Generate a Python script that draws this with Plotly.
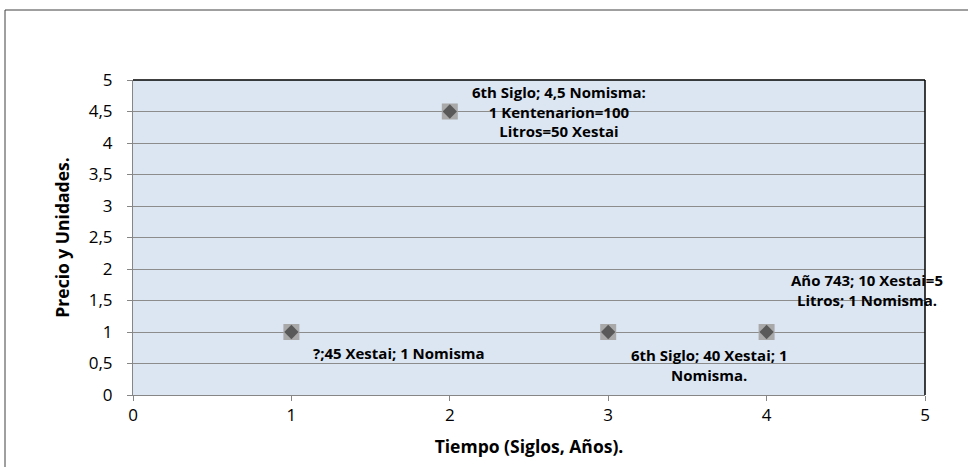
import plotly.graph_objects as go

# Data points: time (centuries/years) vs price and units
tiempo = [1, 2, 3, 4]
precio = [1, 4.5, 1, 1]
etiquetas = [
    "?;45 Xestai; 1 Nomisma",
    "6th Siglo; 4,5 Nomisma:<br>1 Kentenarion=100<br>Litros=50 Xestai",
    "6th Siglo; 40 Xestai; 1<br>Nomisma.",
    "Año 743; 10 Xestai=5<br>Litros; 1 Nomisma.",
]
# label offsets (px) relative to each point
desplaz_x = [108, 109, 101, 100]
desplaz_y = [-21, 0, -33, 42]

x_ticks = [0, 1, 2, 3, 4, 5]
y_ticks = [0, 0.5, 1, 1.5, 2, 2.5, 3, 3.5, 4, 4.5, 5]

FONT = "'Open Sans', sans-serif"

fig = go.Figure()

# light gray square behind each marker
fig.add_trace(go.Scatter(
    x=tiempo, y=precio, mode="markers",
    marker=dict(symbol="square", size=16, color="#A9A9A9", line=dict(width=0)),
    hoverinfo="skip", showlegend=False,
))
# dark gray diamond marker
fig.add_trace(go.Scatter(
    x=tiempo, y=precio, mode="markers",
    marker=dict(symbol="diamond", size=11, color="#595959", line=dict(width=0)),
    hoverinfo="skip", showlegend=False,
))

for xv, yv, txt, dx, dy in zip(tiempo, precio, etiquetas, desplaz_x, desplaz_y):
    fig.add_annotation(
        x=xv, y=yv, xref="x", yref="y", text=f"<b>{txt}</b>",
        showarrow=False, xshift=dx, yshift=dy, align="center",
        font=dict(family=FONT, size=15, color="#000000"),
    )

# outer chart border
fig.add_shape(type="rect", xref="paper", yref="paper",
              x0=-0.1616, x1=1.2, y0=-0.4, y1=1.2222,
              line=dict(color="#404040", width=1), fillcolor="rgba(0,0,0,0)",
              layer="below")
# plot area top and right border
fig.add_shape(type="line", xref="paper", yref="paper", x0=0, x1=1, y0=1, y1=1,
              line=dict(color="#000000", width=1.5))
fig.add_shape(type="line", xref="paper", yref="paper", x0=1, x1=1, y0=0, y1=1,
              line=dict(color="#000000", width=1.5))

fig.update_layout(
    width=968, height=467,
    margin=dict(l=133, r=43, t=80, b=72),
    paper_bgcolor="#FFFFFF",
    plot_bgcolor="#DCE6F2",
    separators=",.",
    font=dict(family=FONT, color="#000000"),
    xaxis=dict(
        range=[0, 5], tickvals=x_ticks, showgrid=False, zeroline=False,
        showline=True, linecolor="#868686", linewidth=1,
        ticks="outside", ticklen=5, tickcolor="#868686",
        tickfont=dict(family=FONT, size=17),
        title=dict(text="<b>Tiempo (Siglos, Años).</b>", font=dict(family=FONT, size=17.5), standoff=15),
    ),
    yaxis=dict(
        range=[0, 5], tickvals=y_ticks, showgrid=True, gridcolor="#8C8C8C", gridwidth=1,
        zeroline=False, showline=True, linecolor="#868686", linewidth=1,
        ticks="outside", ticklen=5, tickcolor="#868686", ticklabelstandoff=11,
        tickfont=dict(family=FONT, size=17),
        title=dict(text="<b>Precio y Unidades.</b>", font=dict(family=FONT, size=17.5), standoff=14),
    ),
)

fig.write_html("out.html")
